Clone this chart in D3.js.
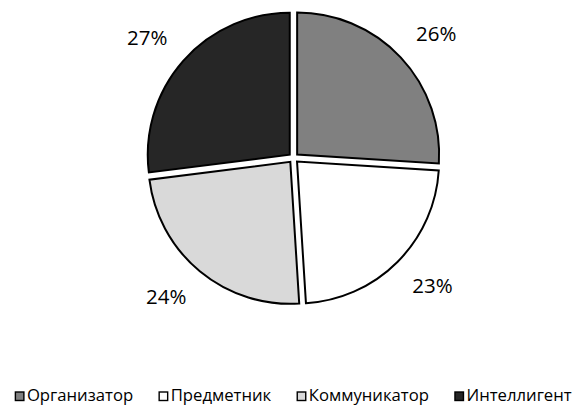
<!DOCTYPE html>
<html>
<head>
<meta charset="utf-8">
<script src="https://cdn.jsdelivr.net/npm/d3@7"></script>
<style>
  html, body { margin: 0; padding: 0; background: #fff; }
  svg { display: block; }
  text { font-family: "Open Sans", "Noto Sans", sans-serif; fill: #000; }
</style>
</head>
<body>
<svg id="chart" width="581" height="405"></svg>
<script>
// Share of each profile type
const categories = ["Организатор", "Предметник", "Коммуникатор", "Интеллигент"];
const values = [26, 23, 24, 27];
const valueLabels = ["26%", "23%", "24%", "27%"];
const colors = ["#808080", "#ffffff", "#d9d9d9", "#262626"];

const W = 581, H = 405;
const cx = 293.5, cy = 158;
const radius = 142;
const explode = 5;

const svg = d3.select("#chart");
const g = svg.append("g").attr("transform", `translate(${cx},${cy})`);

const pie = d3.pie().sort(null).value(d => d)(values);
const arc = d3.arc().innerRadius(0).outerRadius(radius);

// Exploded slices, each pushed out along its bisector
g.selectAll("path.slice")
  .data(pie)
  .join("path")
  .attr("class", "slice")
  .attr("transform", d => {
    const a = (d.startAngle + d.endAngle) / 2;
    return `translate(${explode * Math.sin(a)},${-explode * Math.cos(a)})`;
  })
  .attr("d", arc)
  .attr("fill", (d, i) => colors[i])
  .attr("stroke", "#000")
  .attr("stroke-width", 2)
  .attr("stroke-linejoin", "miter");

// Percentage labels outside the slices
const labelFont = 20.5;
const labelR = radius + explode + 21;
g.selectAll("text.lbl")
  .data(pie)
  .join("text")
  .attr("class", "lbl")
  .attr("font-size", labelFont)
  .attr("text-anchor", "middle")
  .each(function (d, i) {
    const a = (d.startAngle + d.endAngle) / 2;
    const sx = Math.sin(a), sy = -Math.cos(a);
    const t = d3.select(this).text(valueLabels[i]);
    const w = this.getComputedTextLength();
    const x = labelR * sx + Math.sign(sx) * w / 2;
    const y = labelR * sy + Math.sign(sy) * 9;
    t.attr("x", x).attr("y", y).attr("dy", "0.35em");
  });

// Legend along the bottom, centred under the pie
const legendFont = 16.7;
const box = 8.5, boxGap = 3, itemGap = 26;
const legend = svg.append("g");
const items = legend.selectAll("g.item")
  .data(categories)
  .join("g")
  .attr("class", "item");
items.append("rect")
  .attr("width", box).attr("height", box)
  .attr("y", -box - 0.5)
  .attr("fill", (d, i) => colors[i])
  .attr("stroke", "#000")
  .attr("stroke-width", 1.4);
items.append("text")
  .attr("x", box + boxGap)
  .attr("y", 0)
  .attr("font-size", legendFont)
  .text(d => d);

let xPos = 0;
const offsets = [];
items.each(function () {
  const tw = d3.select(this).select("text").node().getComputedTextLength();
  offsets.push(xPos);
  xPos += box + boxGap + tw + itemGap;
});
const total = xPos - itemGap;
const startX = cx - total / 2;
items.attr("transform", (d, i) => `translate(${startX + offsets[i]},${401})`);
</script>
</body>
</html>
